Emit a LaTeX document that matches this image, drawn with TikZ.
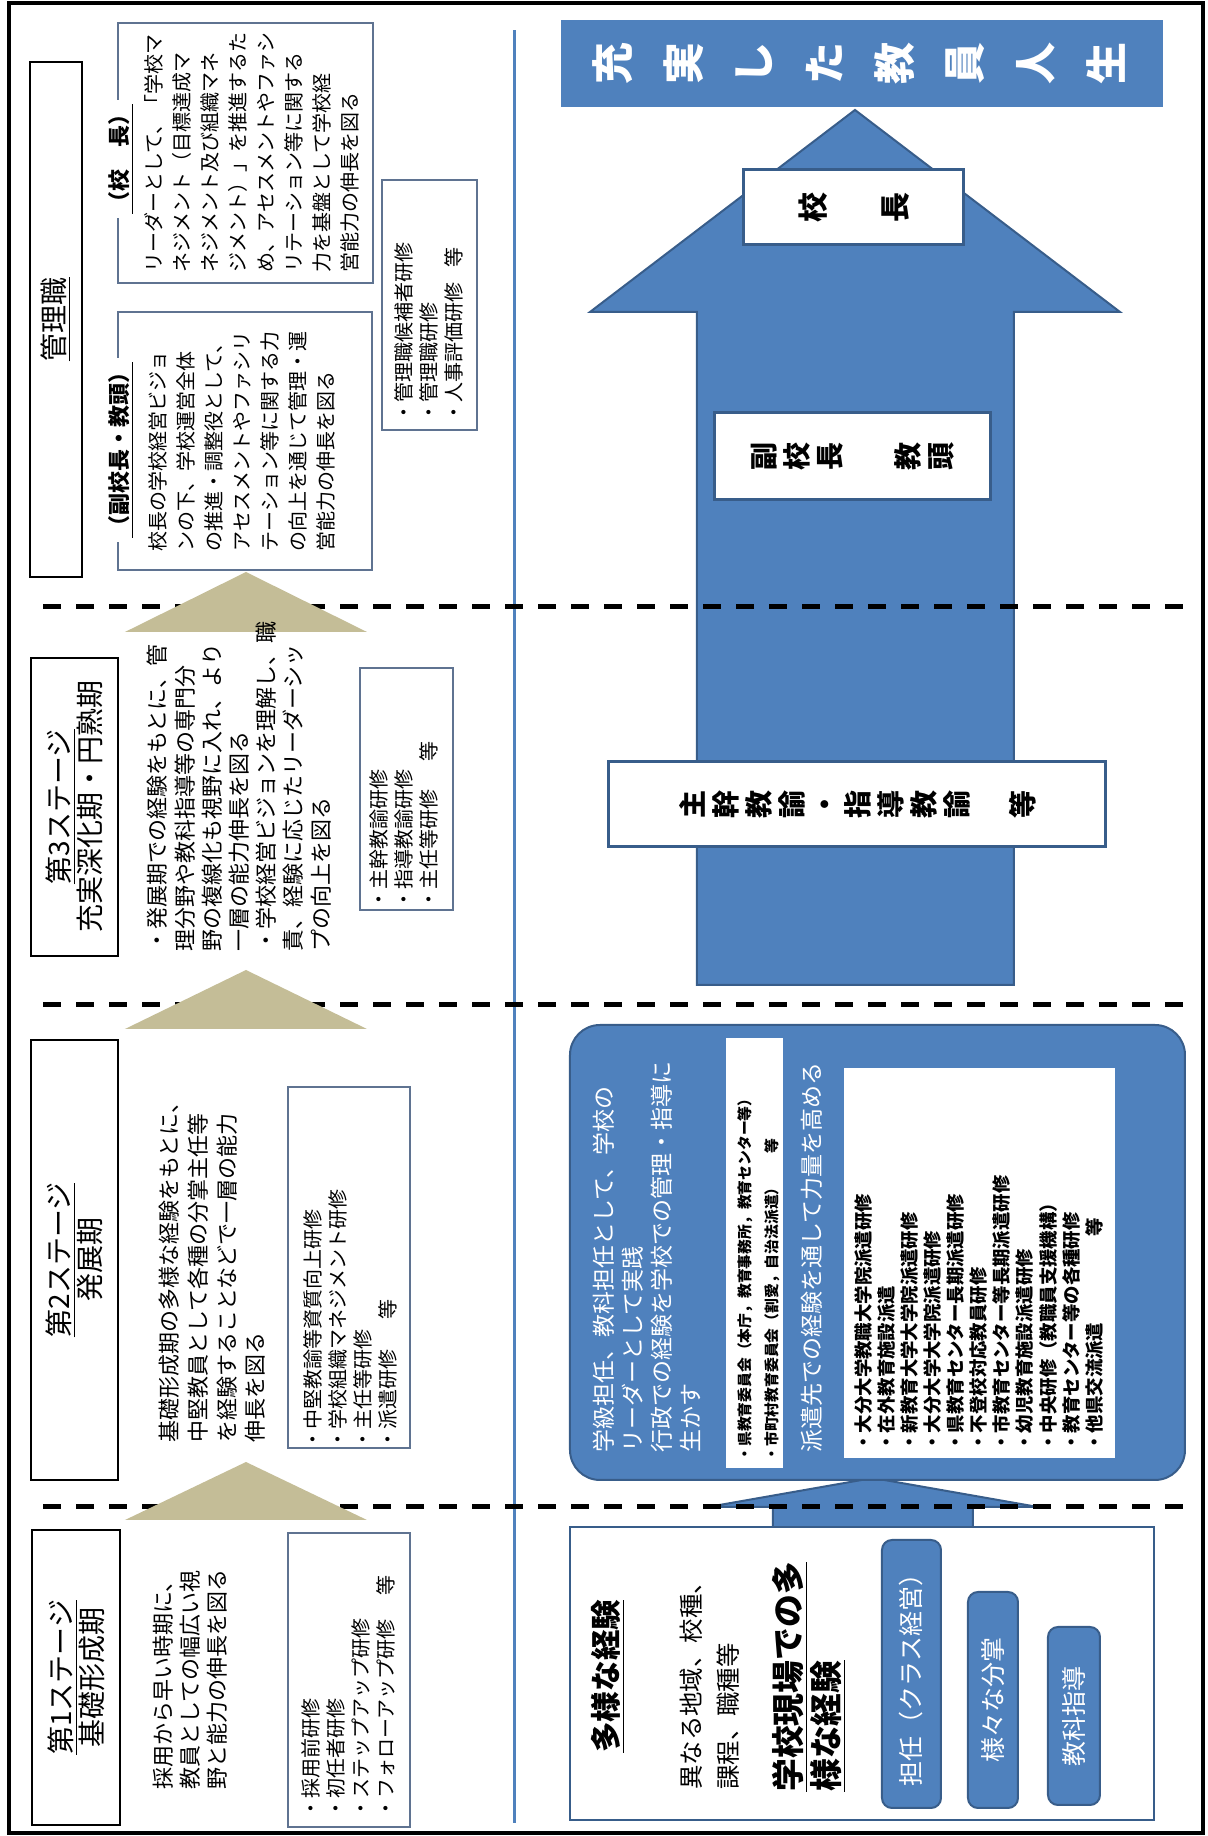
\documentclass[tikz,border=0pt]{standalone}
\usepackage{fontspec}
\setmainfont{Noto Sans CJK JP}
\definecolor{ofblau}{RGB}{79,129,189}
\definecolor{ofrand}{RGB}{56,93,138}
\definecolor{keilfarbe}{RGB}{196,189,151}
\definecolor{kursrand}{RGB}{95,115,145}
\newcommand{\schrift}[2]{\fontsize{#1}{#2}\selectfont}

\begin{document}
\begin{tikzpicture}[
    rotate=90, transform shape, % Querformat, gedreht
    x=0.5pt, y=0.5pt,
    stufe/.style={draw, line width=0.8pt, align=center, inner sep=0pt, font=\schrift{14}{15.5}},
    kurs/.style={draw=kursrand, line width=0.6pt, fill=white, inner sep=0pt},
    txt/.style={anchor=north west, align=left, inner sep=0pt},
    kopf/.style={fill=white, inner sep=2pt, font=\bfseries\schrift{11}{11}},
    blaukasten/.style={fill=ofblau, draw=ofrand, line width=1pt, inner sep=0pt},
    weisskasten/.style={fill=white, draw=ofrand, line width=1.5pt, inner sep=0pt, align=center},
    strich/.style={line width=2.5pt, dash pattern=on 9pt off 7.5pt},
    keil/.style={fill=keilfarbe},
    pfeil/.style={fill=ofblau, draw=ofrand, line width=1pt}
    ]
        \useasboundingbox (0,0) rectangle (1836,1208);

        % Rahmen
        \draw[line width=2pt] (3,5) rectangle (1833,1199);
        \draw[ofblau, line width=1.5pt] (13,693) -- (1806,693);

        % Pfeile
        \draw[pfeil] (851,194) -- (1524,194) -- (1524,88) -- (1726,353)
                     -- (1524,618) -- (1524,511) -- (851,511) -- cycle;
        \draw[pfeil] (308,235) -- (329,235) -- (329,170) -- (358,335)
                     -- (329,500) -- (329,435) -- (308,435) -- cycle;

        % Erfahrungen
        \node[blaukasten, rounded corners=15pt, minimum width=227.5pt, minimum height=307.5pt] (E) at (583.5,330.5) {};
        \node[txt, text=white, font=\schrift{11.5}{14.5}] (Et) at (383,615)
            {学級担任、教科担任として、学校の\\リーダーとして実践\\行政での経験を学校での管理・指導に\\生かす};
        \node[fill=white, minimum width=215pt, minimum height=28.5pt, inner sep=0pt] (ws) at (583,453.5) {};
        \node[txt, font=\bfseries\schrift{7.4}{13.5}] (wst) at (374,471)
            {・県教育委員会（本庁，教育事務所，教育センター等）\\・市町村教育委員会（割愛，自治法派遣）\hspace{1.8em}等};
        \node[anchor=west, inner sep=0pt, text=white, font=\schrift{11.5}{11.5}] (hs) at (383,396)
            {派遣先での経験を通して力量を高める};
        \node[fill=white, minimum width=195pt, minimum height=135.5pt, inner sep=0pt] (wb) at (573,228.5) {};
        \node[txt, font=\bfseries\schrift{9.2}{11.55}] (wbt) at (384,354)
            {・大分大学教職大学院派遣研修\\・在外教育施設派遣\\・新教育大学大学院派遣研修\\・大分大学大学院派遣研修\\
             ・県教育センター長期派遣研修\\・不登校対応教員研修\\・市教育センター等長期派遣研修\\・幼児教育施設派遣研修\\
             ・中央研修（教職員支援機構）\\・教育センター等の各種研修\\・他県交流派遣\hspace{4.7em}等};

        \node[draw=ofrand, line width=1.2pt, fill=white, minimum width=146.5pt, minimum height=292pt] (V) at (162.5,346) {};
        \node[anchor=west, inner sep=0pt, font=\bfseries\schrift{15.3}{15.3}] (V1) at (83,600) {\underline{多様な経験}};
        \node[txt, font=\schrift{12.2}{18.5}] (V2) at (46,528) {異なる地域、校種、\\課程、職種等};
        \node[txt, font=\bfseries\schrift{16.4}{19}] (V3) at (44,436) {\underline{学校現場での多}\\\underline{様な経験}};
        \node[blaukasten, rounded corners=5pt, minimum width=134pt, minimum height=29.5pt,
              text=white, font=\schrift{12.5}{12.5}] (c1) at (162,296.5) {担任（クラス経営）};
        \node[blaukasten, rounded corners=5pt, minimum width=108pt, minimum height=25pt,
              text=white, font=\schrift{12.5}{12.5}] (c2) at (136,215) {様々な分掌};
        \node[blaukasten, rounded corners=5pt, minimum width=89pt, minimum height=26pt,
              text=white, font=\schrift{12.5}{12.5}] (c3) at (120,134) {教科指導};

        % Trennlinien
        \foreach \x in {329,831,1229}
            \draw[strich] (\x,25) -- (\x,1176);

        % Keile
        \foreach \x/\t in {316/374,807/866,1204/1264}
            \fill[keil] (\x,1083) -- (\t,962) -- (\x,841) -- cycle;

        % Stufen
        \node[stufe, minimum width=147.5pt, minimum height=44pt] (s1) at (158.5,1132) {\underline{第1ステージ}\\基礎形成期};
        \node[stufe, minimum width=220pt, minimum height=43.5pt] (s2) at (576,1133.5) {\underline{第2ステージ}\\発展期};
        \node[stufe, minimum width=149pt, minimum height=43.5pt] (s3) at (1029,1133.5) {\underline{第3ステージ}\\充実深化期・円熟期};
        \node[stufe, minimum width=257.5pt, minimum height=26pt] (s4) at (1516.5,1152) {\underline{管理職}};

        \node[txt, font=\schrift{11}{13.5}] (d1) at (46,1055)
            {採用から早い時期に、\\教員としての幅広い視\\野と能力の伸長を図る};
        \node[txt, font=\schrift{11}{14.3}] (d2) at (393,1049)
            {基礎形成期の多様な経験をもとに、\\中堅教員として各種の分掌主任等\\を経験することなどで一層の能力\\伸長を図る};
        \node[txt, font=\schrift{11}{13.6}] (d3) at (884,1061)
            {・発展期での経験をもとに、管\\理分野や教科指導等の専門分\\野の複線化も視野に入れ、より\\一層の能力伸長を図る\\
             ・学校経営ビジョンを理解し、職\\責、経験に応じたリーダーシッ\\プの向上を図る};

        \node[kurs, minimum width=129pt, minimum height=127pt] (f4) at (1395,963) {};
        \node[txt, font=\schrift{10}{14}] (d4) at (1284,1060)
            {校長の学校経営ビジョ\\ンの下、学校運営全体\\の推進・調整役として、\\アセスメントやファシリ\\
             テーション等に関する力\\の向上を通じて管理・運\\営能力の伸長を図る};
        \node[kopf] (h4) at (1386,1087) {\underline{（副校長・教頭）}};

        \node[kurs, minimum width=130pt, minimum height=127.5pt] (f5) at (1683,962.5) {};
        \node[txt, font=\schrift{10}{14}] (d5) at (1563,1064)
            {リーダーとして、「学校マ\\ネジメント（目標達成マ\\ネジメント及び組織マネ\\ジメント）」を推進するた\\
             め、アセスメントやファシ\\リテーション等に関する\\力を基盤として学校経\\営能力の伸長を図る};
        \node[kopf] (h5) at (1677,1087) {\underline{（校　長）}};

        % Fortbildung
        \node[kurs, minimum width=147pt, minimum height=61pt] (k1) at (156,859) {};
        \node[txt, font=\schrift{10}{12.5}] (k1t) at (17,907)
            {・採用前研修\\・初任者研修\\・ステップアップ研修\\・フォローアップ研修\hspace{1.2em}等};
        \node[kurs, minimum width=180.5pt, minimum height=61pt] (k2) at (568.5,859) {};
        \node[txt, font=\schrift{10}{12.5}] (k2t) at (386,905)
            {・中堅教諭等資質向上研修\\・学校組織マネジメント研修\\・主任等研修\\・派遣研修\hspace{1.5em}等};
        \node[kurs, minimum width=121pt, minimum height=46.5pt] (k3) at (1047,801.5) {};
        \node[txt, font=\schrift{10}{12.5}] (k3t) at (926,839)
            {・主幹教諭研修\\・指導教諭研修\\・主任等研修\hspace{1.4em}等};
        \node[kurs, minimum width=125pt, minimum height=47.5pt] (k4) at (1531,778.5) {};
        \node[txt, font=\schrift{10}{12.5}] (k4t) at (1413,814)
            {・管理職候補者研修\\・管理職研修\\・人事評価研修\hspace{0.75em}等};

        % Ziel und Stellen
        \node[fill=ofblau, minimum width=43.5pt, minimum height=301pt, inner sep=0pt] (ban) at (1772.5,346) {};
        \foreach \z [count=\i from 0] in {充,実,し,た,教,員,人,生}
            \node[text=white, font=\bfseries\schrift{21}{21}, inner sep=0pt] (b\i) at (1772,{595-70.4*\i}) {\z};

        \node[weisskasten, minimum width=37.5pt, minimum height=110pt, font=\bfseries\schrift{15}{41}] (k5) at (1628.5,354) {校\\長};
        \node[weisskasten, minimum width=43.5pt, minimum height=138pt, font=\bfseries\schrift{14}{16.5}] (k6) at (1379.5,355)
            {副\\校\\長\\[22.5pt]教\\頭};
        \node[weisskasten, minimum width=42.5pt, minimum height=248.5pt, font=\bfseries\schrift{14}{16.5}] (k7) at (1031.5,350.5)
            {主\\幹\\教\\諭\\・\\指\\導\\教\\諭\\[16.5pt]等};
\end{tikzpicture}
\end{document}
